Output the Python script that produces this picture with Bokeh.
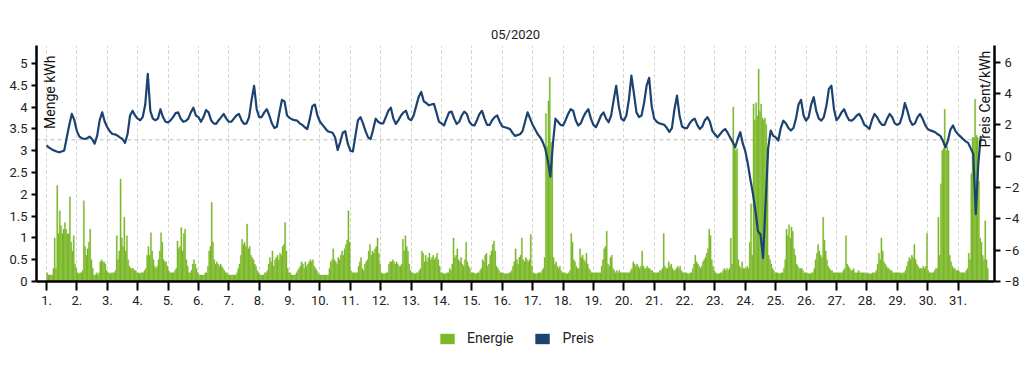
import math
from bokeh.plotting import figure
from bokeh.layouts import column
from bokeh.models import (Range1d, LinearAxis, FixedTicker, NumeralTickFormatter, Span,
                          Label, Legend, LegendItem, ColumnDataSource)
from bokeh.embed import file_html
from bokeh.resources import INLINE

# ---------------- data ----------------
day_labels = [f"{d}." for d in range(1, 32)]
left_ticks = [0, 0.5, 1, 1.5, 2, 2.5, 3, 3.5, 4, 4.5, 5]
right_ticks = [-8, -6, -4, -2, 0, 2, 4, 6]
price_ref_line = 1.05

# hourly energy (kWh), one list per day, hours 0..23
energy_kwh = [
    [0.2,0.15,0.15,0.15,0.15,0.3,1.0,0.3,2.2,1.1,1.62,1.28,1.1,1.2,1.35,1.2,1.09,1.1,1.94,0.9,0.7,1.05,0.4,0.3],
    [0.2,0.18,0.2,0.2,0.25,1.85,0.8,0.6,0.75,0.9,1.2,0.5,0.3,0.15,0.15,0.2,0.15,0.2,0.45,0.5,0.45,0.45,0.4,0.25],
    [0.2,0.2,0.18,0.2,0.2,0.2,0.25,1.05,0.5,0.7,2.35,1.0,0.8,1.47,0.7,1.05,0.5,0.35,0.3,0.3,0.3,0.25,0.25,0.2],
    [0.2,0.18,0.2,0.2,0.2,0.25,0.3,0.6,0.8,0.6,1.12,0.7,0.5,0.35,0.3,0.35,0.5,0.7,1.12,0.9,0.5,0.45,0.45,0.35],
    [0.25,0.2,0.2,0.2,0.2,0.25,0.3,0.93,0.75,0.8,1.24,0.7,1.1,1.2,0.5,0.35,0.2,0.2,0.25,0.4,0.5,0.4,0.3,0.2],
    [0.15,0.15,0.15,0.15,0.15,0.2,0.2,0.35,0.7,0.8,1.81,0.9,0.5,0.4,0.45,0.4,0.35,0.4,0.35,0.3,0.25,0.2,0.2,0.15],
    [0.15,0.15,0.15,0.15,0.15,0.15,0.2,0.3,0.4,0.6,0.97,0.85,0.9,0.8,1.32,0.75,0.8,0.6,0.55,0.5,0.4,0.35,0.25,0.2],
    [0.15,0.15,0.15,0.15,0.2,0.2,0.25,0.4,0.55,0.45,0.7,0.35,0.5,0.55,0.6,0.5,0.65,0.6,0.8,0.85,1.35,0.7,0.3,0.2],
    [0.2,0.15,0.15,0.15,0.15,0.2,0.25,0.3,0.35,0.45,0.4,0.3,0.45,0.35,0.4,0.45,0.5,0.45,0.5,0.35,0.3,0.25,0.2,0.15],
    [0.15,0.15,0.15,0.15,0.15,0.15,0.15,0.3,0.45,0.5,0.75,0.5,0.45,0.4,0.55,0.5,0.6,0.7,0.6,0.75,0.85,0.95,1.62,0.9],
    [0.25,0.2,0.2,0.2,0.2,0.2,0.35,0.45,0.55,0.3,0.25,0.4,0.45,0.5,0.7,0.85,0.6,0.7,0.65,0.75,0.8,1.0,0.65,0.4],
    [0.2,0.18,0.18,0.18,0.2,0.2,0.4,0.45,0.45,0.5,0.45,0.4,0.45,0.4,0.35,0.35,0.4,0.97,0.7,1.05,0.8,0.7,0.4,0.25],
    [0.2,0.2,0.18,0.18,0.2,0.2,0.25,0.3,0.7,0.65,0.45,0.6,0.45,0.55,0.65,0.5,0.55,0.6,0.5,0.55,0.65,0.5,0.35,0.2],
    [0.2,0.18,0.18,0.18,0.2,0.2,0.3,0.25,0.4,1.0,0.55,0.6,0.75,0.5,0.45,0.55,0.4,0.35,0.5,0.9,0.45,0.35,0.3,0.2],
    [0.2,0.2,0.18,0.18,0.2,0.2,0.25,0.3,0.5,0.45,0.6,0.65,0.35,0.4,0.6,0.7,0.85,0.93,0.7,0.35,0.3,0.25,0.2,0.2],
    [0.2,0.18,0.18,0.18,0.18,0.2,0.2,0.25,0.35,0.45,0.75,0.5,0.4,0.55,0.6,1.0,0.5,0.45,0.55,0.5,0.45,0.5,1.08,0.35],
    [0.2,0.18,0.18,0.18,0.2,0.2,0.2,0.25,0.3,0.55,3.85,3.1,4.14,4.68,3.2,3.0,0.55,0.4,0.45,0.35,0.3,0.35,0.25,0.2],
    [0.2,0.2,0.18,0.18,0.2,0.25,1.1,0.9,0.5,0.45,0.35,0.3,0.3,0.75,0.55,0.6,0.5,0.45,0.65,0.4,0.3,0.25,0.2,0.2],
    [0.2,0.2,0.2,0.2,0.2,0.2,0.35,0.5,0.75,0.8,1.15,0.4,0.35,0.55,0.6,0.3,0.25,0.2,0.25,0.2,0.25,0.2,0.2,0.2],
    [0.2,0.2,0.2,0.2,0.2,0.25,0.3,0.45,0.4,0.35,0.4,0.35,0.3,0.35,0.7,0.35,0.3,0.3,0.35,0.3,0.3,0.25,0.25,0.2],
    [0.2,0.2,0.2,0.2,0.25,0.25,0.3,1.1,0.35,0.3,0.3,0.45,0.35,0.4,0.3,0.25,0.25,0.3,0.35,0.3,0.35,0.25,0.2,0.2],
    [0.2,0.2,0.18,0.18,0.2,0.2,0.3,0.4,0.6,0.45,0.4,0.35,0.3,0.35,0.45,0.5,0.55,0.65,0.75,1.2,1.05,0.5,0.35,0.25],
    [0.2,0.18,0.18,0.18,0.2,0.2,0.25,0.3,0.25,0.3,0.25,0.3,1.0,0.4,4.0,3.1,3.0,3.05,0.5,0.35,0.3,0.45,0.3,0.3],
    [0.3,0.35,0.3,0.9,1.78,0.6,4.07,3.7,4.1,3.8,4.87,3.9,4.07,3.75,3.7,3.75,3.6,3.07,0.6,0.5,0.4,0.3,0.25,0.2],
    [0.2,0.2,0.18,0.18,0.2,0.2,0.3,0.5,1.2,1.05,1.3,1.0,1.25,1.15,0.75,0.6,0.4,0.35,0.3,0.3,0.3,0.25,0.2,0.2],
    [0.2,0.18,0.18,0.18,0.2,0.2,0.3,0.5,0.65,0.85,0.7,0.6,0.55,1.47,0.95,0.7,0.5,0.35,0.3,0.25,0.25,0.2,0.2,0.2],
    [0.2,0.2,0.2,0.2,0.2,0.25,0.3,1.05,0.4,0.35,0.3,0.25,0.25,0.3,0.2,0.2,0.2,0.25,0.2,0.2,0.2,0.2,0.2,0.18],
    [0.2,0.18,0.18,0.18,0.2,0.2,0.2,0.25,0.4,0.65,0.5,1.0,0.7,0.45,0.4,0.35,0.3,0.3,0.25,0.25,0.2,0.2,0.2,0.2],
    [0.2,0.2,0.2,0.18,0.2,0.2,0.25,0.35,0.45,0.55,0.5,0.6,0.55,0.85,0.5,0.4,0.35,0.3,0.3,0.3,0.35,0.3,0.35,1.1],
    [0.25,0.2,0.2,0.2,0.2,0.25,0.3,0.3,1.47,0.6,2.24,3.0,3.05,3.95,3.0,3.1,3.0,0.6,0.45,0.35,0.3,0.3,0.25,0.25],
    [0.25,0.2,0.2,0.2,0.2,0.2,0.25,0.3,0.65,0.5,2.47,3.3,3.3,4.18,3.35,3.3,2.3,1.0,0.9,0.6,0.5,1.39,0.5,0.3],
]

# price (Cent/kWh), one list per day, every 2 hours (0,2,..,22)
price_ct = [
    [0.7,0.55,0.45,0.36,0.3,0.25,0.3,0.36,1.2,2.0,2.7,2.3],
    [1.6,1.25,1.15,1.1,1.15,1.25,1.1,0.8,1.3,2.3,2.8,2.2],
    [1.85,1.6,1.42,1.4,1.32,1.2,1.1,0.85,1.4,2.6,2.9,2.6],
    [2.4,2.3,2.5,3.3,5.26,2.9,2.4,2.3,2.4,3.0,2.5,2.2],
    [2.15,2.3,2.5,2.75,2.8,2.4,2.2,2.25,2.4,2.8,3.1,2.6],
    [2.5,2.2,2.5,2.95,2.8,2.3,2.1,2.06,2.3,2.5,2.7,2.4],
    [2.2,2.2,2.4,2.6,2.7,2.3,2.06,2.1,2.5,3.6,4.5,3.0],
    [2.5,2.5,2.8,3.0,2.6,2.1,1.8,1.9,2.8,3.6,3.5,2.6],
    [2.45,2.35,2.3,2.27,2.1,2.0,1.85,1.74,2.4,3.2,3.3,2.6],
    [2.2,2.0,1.8,1.6,1.55,1.5,1.2,0.4,0.9,1.5,1.6,0.8],
    [0.35,0.3,1.3,2.3,2.5,2.1,1.6,1.2,1.1,1.7,2.4,2.2],
    [2.1,2.1,2.5,2.9,3.1,2.4,2.06,2.3,2.6,2.8,2.9,2.4],
    [2.3,2.6,3.2,3.8,4.1,3.5,3.4,3.25,3.3,3.34,2.8,2.2],
    [2.1,1.96,2.4,2.8,2.85,2.4,2.06,2.2,2.6,2.85,2.7,2.2],
    [2.0,1.96,2.3,2.7,2.9,2.4,2.0,2.0,2.3,2.5,2.6,2.2],
    [1.9,1.85,1.8,1.74,1.5,1.3,1.35,1.4,1.6,2.2,2.8,2.4],
    [2.0,1.7,1.4,1.2,0.9,0.47,-0.3,-1.3,0.8,2.4,2.2,2.0],
    [1.96,2.3,2.7,3.0,2.9,2.3,1.96,2.1,2.5,2.8,3.0,2.4],
    [2.0,1.85,2.2,2.6,2.8,2.4,2.17,2.6,3.6,4.5,3.2,2.4],
    [2.27,2.6,3.6,5.15,4.0,2.8,2.5,2.6,3.4,4.5,5.0,3.2],
    [2.4,2.2,2.1,2.06,2.0,1.8,1.55,1.8,3.0,3.87,2.6,1.9],
    [1.8,1.8,2.1,2.3,2.4,2.0,1.74,1.9,2.3,2.5,2.2,1.6],
    [1.4,1.2,1.4,1.6,1.74,1.5,1.2,0.9,0.57,1.1,1.53,0.8],
    [0.3,-0.5,-1.5,-2.4,-3.5,-4.8,-5.0,-6.5,-3.0,0.5,1.64,1.3],
    [1.2,1.0,1.8,2.27,2.1,1.8,1.64,1.8,2.4,3.3,3.6,2.6],
    [2.27,2.5,3.3,3.77,2.9,2.4,2.27,2.5,3.2,4.3,4.5,3.0],
    [2.3,2.5,2.8,3.0,2.6,2.3,2.27,2.4,2.6,2.7,2.4,2.0],
    [1.9,1.74,2.3,2.7,2.5,2.2,2.0,2.0,2.4,2.7,2.5,2.1],
    [2.0,2.1,2.6,3.4,2.9,2.3,2.0,2.1,2.5,2.7,2.4,2.0],
    [1.74,1.65,1.6,1.53,1.4,1.3,1.0,0.57,1.0,1.7,1.96,1.6],
    [1.4,1.25,1.1,0.95,0.85,0.5,0.15,-3.7,-0.5,1.3],
]

# ---------------- build ----------------
GREEN = "#7cb82a"
BLUE = "#1b4270"
FONT = "Roboto"

e_x, e_y = [], []
for d, day in enumerate(energy_kwh):
    for h, v in enumerate(day):
        e_x.append(d * 24 + h + 0.5)
        e_y.append(v)
p_x, p_y = [], []
for d, day in enumerate(price_ct):
    for k, v in enumerate(day):
        p_x.append(d * 24 + 2 * k)
        p_y.append(v)

p = figure(frame_width=958, frame_height=236, x_range=Range1d(-7.9, 748.8), y_range=Range1d(0, 5.41),
           output_backend="svg", toolbar_location=None, title="05/2020",
           min_border_left=36, min_border_right=26, min_border_top=45, min_border_bottom=40)
p.extra_y_ranges = {"price": Range1d(-8, 7.07)}
p.outline_line_color = None
p.background_fill_color = "white"

p.title.align = "center"
p.title.text_font = FONT
p.title.text_font_size = "13px"
p.title.text_font_style = "normal"
p.title.text_color = "#222222"
p.title.standoff = 8

p.ygrid.visible = False
p.xgrid.grid_line_color = "#cccccc"
p.xgrid.grid_line_dash = "3 3"
p.xgrid.grid_line_width = 1

def style_axis(ax, tick_out):
    ax.axis_line_color = "black"
    ax.axis_line_width = 2.5
    ax.major_tick_line_color = "black"
    ax.major_tick_line_width = 2
    ax.major_tick_out = tick_out
    ax.major_tick_in = 0
    ax.minor_tick_line_color = None
    ax.major_label_text_font = FONT
    ax.major_label_text_font_size = "13px"
    ax.major_label_text_color = "#222222"

xa = p.xaxis[0]
xa.ticker = FixedTicker(ticks=[d * 24 for d in range(31)])
xa.major_label_overrides = {d * 24: day_labels[d] for d in range(31)}
style_axis(xa, 9)
xa.major_label_standoff = 5

ya = p.yaxis[0]
ya.ticker = FixedTicker(ticks=left_ticks)
ya.formatter = NumeralTickFormatter(format="0.[0]")
style_axis(ya, 5)
ya.major_label_standoff = 4

ra = LinearAxis(y_range_name="price", ticker=FixedTicker(ticks=right_ticks))
style_axis(ra, 6)
ra.major_label_standoff = 4
p.add_layout(ra, "right")

span = Span(location=price_ref_line, dimension="width", y_range_name="price",
            line_color="#bbbbbb", line_dash="4 3", line_width=1, level="underlay")
p.add_layout(span)

esrc = ColumnDataSource(dict(x=e_x, top=e_y))
bars = p.vbar(x="x", top="top", width=1.0, source=esrc, fill_color=GREEN,
              line_color=GREEN, line_width=0.3)

psrc = ColumnDataSource(dict(x=p_x, y=p_y))
p.line(x="x", y="y", source=psrc, y_range_name="price", line_color=BLUE,
       line_width=2.2, line_join="round")

p.add_layout(Label(x=-3.2, y=5.18, text="Menge kWh", angle=math.pi / 2,
                   text_align="right", text_baseline="top", text_font=FONT,
                   text_font_size="14px", text_color="#111111"))
p.add_layout(Label(x=735.0, y=5.29, text="Preis Cent/kWh", angle=math.pi / 2,
                   text_align="right", text_baseline="top", text_font=FONT,
                   text_font_size="14px", text_color="#111111"))

# ---- legend strip below the chart ----
lf = figure(width=1024, height=34, x_range=Range1d(0, 1), y_range=Range1d(0, 1),
            output_backend="svg", toolbar_location=None, min_border=0,
            x_axis_location=None, y_axis_location=None)
lf.grid.visible = False
lf.outline_line_color = None
g_e = lf.quad(left=[0], right=[0], top=[0], bottom=[0], fill_color=GREEN, line_alpha=0)
g_p = lf.quad(left=[0], right=[0], top=[0], bottom=[0], fill_color=BLUE, line_alpha=0)
legend = Legend(items=[LegendItem(label="Energie", renderers=[g_e]),
                       LegendItem(label="Preis", renderers=[g_p])],
                orientation="horizontal", location="center",
                glyph_width=18, glyph_height=13, label_standoff=11, spacing=20,
                border_line_color=None, background_fill_alpha=0,
                label_text_font=FONT, label_text_font_size="14px",
                label_text_color="#222222", margin=0, padding=4)
lf.add_layout(legend)

layout = column(p, lf, spacing=0)
open("out.html", "w").write(file_html(layout, INLINE))
